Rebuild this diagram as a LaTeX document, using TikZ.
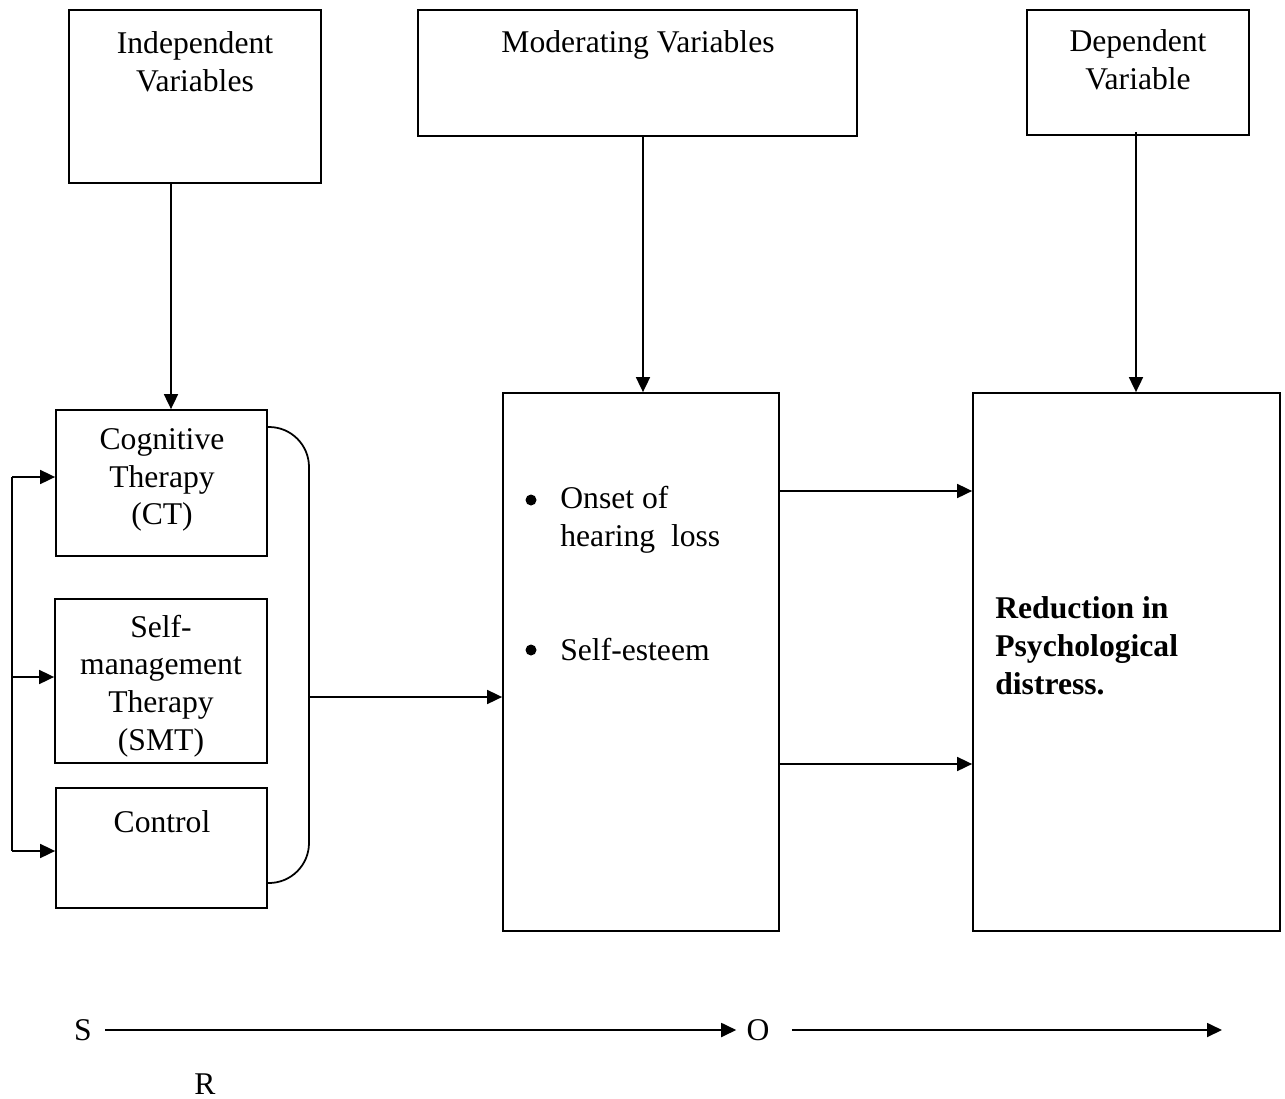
\documentclass[tikz,border=0pt]{standalone}
\usepackage{fontspec}
\setmainfont{Liberation Serif}
\usetikzlibrary{arrows.meta,calc}
\begin{document}
\begin{tikzpicture}[x=0.02cm,y=-0.02cm,
  box/.style={draw,line width=1pt,inner sep=0pt},
  txt/.style={inner sep=0pt,font=\fontsize{18}{21.5}\selectfont,align=center},
  arr/.style={line width=1pt,-{Triangle[length=3mm,width=2.8mm]}},
  ln/.style={line width=1pt},
  bulletdot/.style={circle,fill=black,draw=none,inner sep=0pt,minimum size=0.22cm}]
\useasboundingbox (0,0) rectangle (1285,1099);
% top boxes
\node[box,minimum width=252*0.02cm,minimum height=173*0.02cm] (iv) at (195,96.5) {};
\node[box,minimum width=439*0.02cm,minimum height=126*0.02cm] (mv) at (637.5,73) {};
\node[box,minimum width=222*0.02cm,minimum height=125*0.02cm] (dv) at (1138,72.5) {};
\node[txt] (ivt) at (195,62) {Independent\\Variables};
\node[txt] (mvt) at (638,45) {Moderating Variables};
\node[txt] (dvt) at (1138,60) {Dependent\\Variable};
% left boxes
\node[box,minimum width=211*0.02cm,minimum height=146*0.02cm] (ct) at (161.5,483) {};
\node[box,minimum width=212*0.02cm,minimum height=164*0.02cm] (smt) at (161,681) {};
\node[box,minimum width=211*0.02cm,minimum height=120*0.02cm] (ctl) at (161.5,848) {};
\node[txt] (ctt) at (162,480) {Cognitive\\Therapy\\(CT)};
\node[txt] (smtt) at (161,686) {Self-\\management\\Therapy\\(SMT)};
\node[txt] (ctlt) at (162,822) {Control};
% middle and right boxes
\node[box,minimum width=276*0.02cm,minimum height=538*0.02cm] (mid) at (641,662) {};
\node[box,minimum width=307*0.02cm,minimum height=538*0.02cm] (rt) at (1126.5,662) {};
\node[bulletdot] (b1) at (531,500) {};
\node[bulletdot] (b2) at (531,650) {};
\node[txt,anchor=west,align=left] (onset) at (560,520) {Onset of\\hearing\ \ loss};
\node[txt,anchor=west,align=left] (se) at (560,650) {Self-esteem};
\node[txt,anchor=west,align=left,font=\fontsize{18}{21.5}\selectfont\bfseries] (red) at (995,646) {Reduction in\\Psychological\\distress.};
% coordinates
\coordinate (xiv) at (171,0);
\coordinate (xmv) at (643,0);
\coordinate (xdv) at (1136,0);
\coordinate (xl) at (12,0);
\coordinate (xb) at (309,0);
\coordinate (y1) at (0,477);
\coordinate (y2) at (0,677);
\coordinate (y3) at (0,851);
\coordinate (ytop) at (0,427);
\coordinate (ybot) at (0,883);
\coordinate (ymid) at (0,697);
\coordinate (yr1) at (0,491);
\coordinate (yr2) at (0,764);
% vertical arrows
\draw[arr] (iv.south -| xiv) -- (ct.north -| xiv);
\draw[arr] (mv.south -| xmv) -- (mid.north -| xmv);
\draw[arr] ([yshift=0.08cm]dv.south -| xdv) -- (rt.north -| xdv);
% left distributor
\draw[ln] (xl |- y1) -- (xl |- y3);
\draw[arr] (xl |- y1) -- (ct.west |- y1);
\draw[arr] (xl |- y2) -- (smt.west |- y2);
\draw[arr] (xl |- y3) -- (ctl.west |- y3);
% bracket
\draw[ln,rounded corners=0.8cm] (ct.east |- ytop) -- (xb |- ytop) -- (xb |- ybot) -- (ctl.east |- ybot);
\draw[arr] (xb |- ymid) -- (mid.west |- ymid);
% middle to right
\draw[arr] (mid.east |- yr1) -- (rt.west |- yr1);
\draw[arr] (mid.east |- yr2) -- (rt.west |- yr2);
% S O R
\node[txt] (s) at (83,1030) {S};
\node[txt] (o) at (758,1030) {O};
\node[inner sep=0pt,font=\fontsize{18}{21.5}\selectfont,text depth=0pt,anchor=base] (r) at (205,1094) {R};
\coordinate (oend) at (1222,1030);
\draw[arr] ([xshift=0.26cm]s.east) -- ([xshift=-0.2cm]o.west);
\draw[arr] ([xshift=0.44cm]o.east) -- (oend);
\end{tikzpicture}
\end{document}
